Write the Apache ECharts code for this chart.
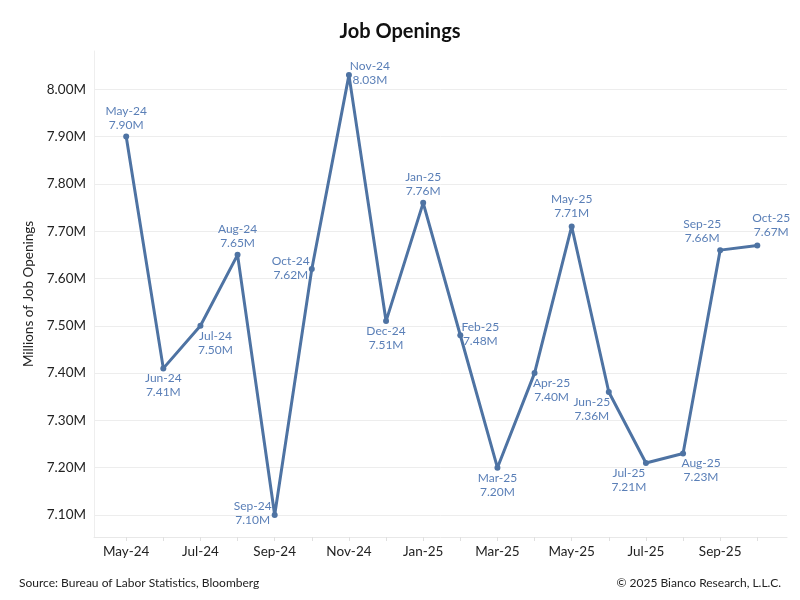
<!DOCTYPE html>
<html>
<head>
<meta charset="utf-8">
<script src="https://cdn.jsdelivr.net/npm/echarts@6/dist/echarts.min.js"></script>
<style>
html,body{margin:0;padding:0;background:#fff;}
#c{width:800px;height:600px;}
</style>
</head>
<body>
<div id="c"></div>
<script>
var months = ['May-24','Jun-24','Jul-24','Aug-24','Sep-24','Oct-24','Nov-24','Dec-24','Jan-25','Feb-25','Mar-25','Apr-25','May-25','Jun-25','Jul-25','Aug-25','Sep-25','Oct-25'];
var openings = [7.90,7.41,7.50,7.65,7.10,7.62,8.03,7.51,7.76,7.48,7.20,7.40,7.71,7.36,7.21,7.23,7.66,7.67];
var yTicks = [7.1,7.2,7.3,7.4,7.5,7.6,7.7,7.8,7.9,8.0];
var xLabelIdx = [0,2,4,6,8,10,12,14,16];

// label offsets (style only)
var labelOffsets = [[0,-18],[0,17],[15,17],[0,-19],[-22,-2],[-21,-1],[21,-2],[0,17],[0,-19],[20,-1],[0,17],[17,17],[0,-20],[-17,17],[-17,17],[18,17],[-18,-19],[14,-20]];

var seriesData = openings.map(function(v,i){
  return {
    value:[i,v],
    label:{show:true,position:'inside',offset:labelOffsets[i],align:'center',verticalAlign:'middle',
      formatter: months[i]+'\n'+v.toFixed(2)+'M'}
  };
});
var xTicks = months.map(function(m,i){return i;});

var chart = echarts.init(document.getElementById('c'));
chart.setOption({
  backgroundColor:'#fff',
  animation:false,
  textStyle:{fontFamily:'Lato'},
  title:[{text:'Job Openings',left:'center',top:17,textStyle:{fontFamily:'Lato',fontSize:20,fontWeight:'bold',color:'#111'}},
    {text:'Source: Bureau of Labor Statistics, Bloomberg',left:14,top:572,textStyle:{fontFamily:'Lato',fontSize:12,fontWeight:'normal',color:'#222'}},
    {text:'© 2025 Bianco Research, L.L.C.',right:14,top:572,textStyle:{fontFamily:'Lato',fontSize:12,fontWeight:'normal',color:'#222'}}],
  grid:{left:94,right:13,top:51,bottom:63},
  xAxis:{type:'value',min:-0.867,max:17.8,
    axisLine:{show:true,onZero:false,lineStyle:{color:'#e8e8e8'}},
    axisTick:{show:true,length:4,lineStyle:{color:'#e0e0e0'},customValues:xTicks},
    axisLabel:{customValues:xLabelIdx,margin:8,fontSize:13.5,color:'#222',fontFamily:'Lato',
      formatter:function(v){return months[Math.round(v)];}},
    splitLine:{show:false},splitArea:{show:false}},
  yAxis:{type:'value',min:7.0535,max:8.081,
    name:'Millions of Job Openings',nameLocation:'middle',nameGap:58,nameRotate:90,
    nameTextStyle:{fontSize:13.5,color:'#222',fontFamily:'Lato'},
    axisLine:{show:true,onZero:false,lineStyle:{color:'#eeeeee'}},
    axisTick:{show:false,customValues:yTicks},
    axisLabel:{customValues:yTicks,margin:8,fontSize:13.5,color:'#222',fontFamily:'Lato',
      formatter:function(v){return v.toFixed(2)+'M';}},
    splitLine:{show:true,lineStyle:{color:'#ededed'}}},
  series:[{type:'line',data:seriesData,symbol:'circle',symbolSize:6,
    lineStyle:{color:'#4e73a3',width:3},itemStyle:{color:'#4e73a3'},
    label:{fontSize:12,lineHeight:14,color:'#5a7fb7',fontFamily:'Lato'}}]
});
</script>
</body>
</html>
